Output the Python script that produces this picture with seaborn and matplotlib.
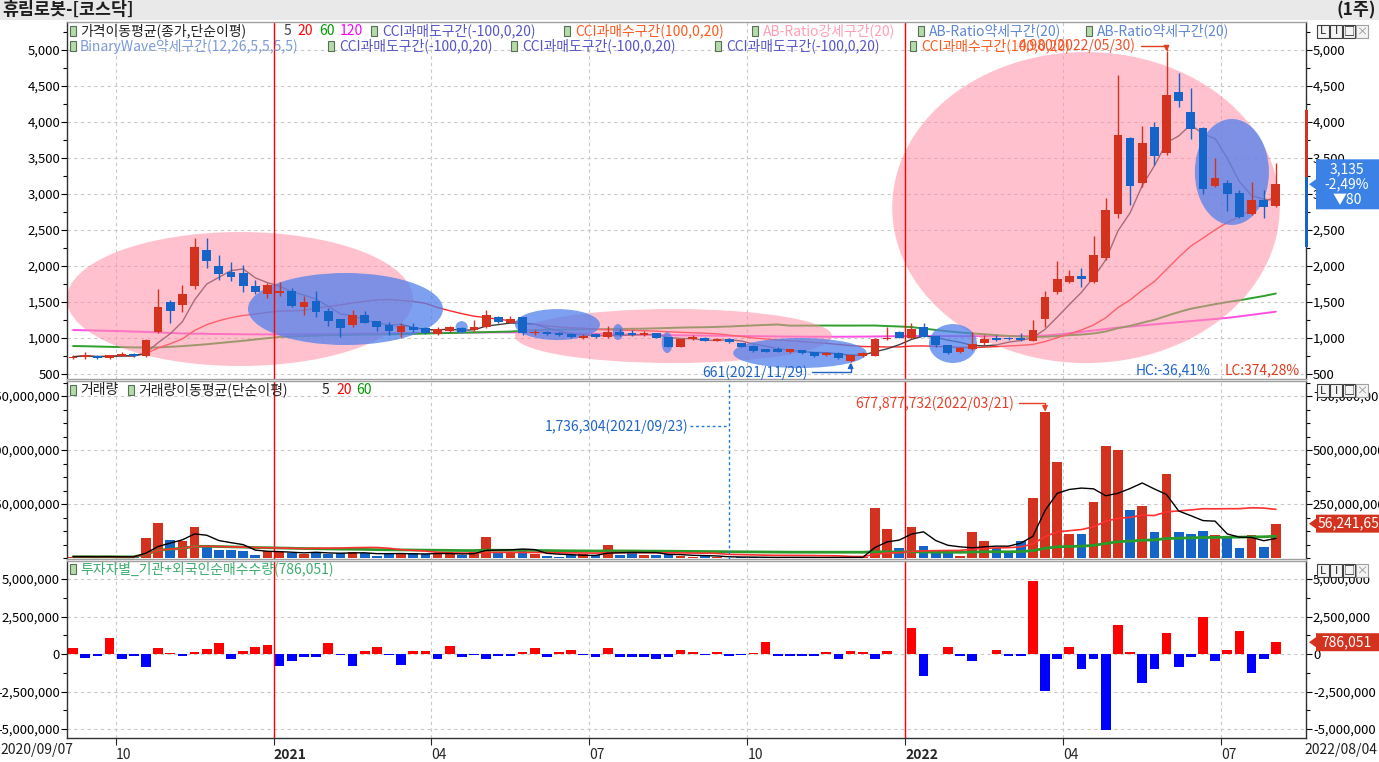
import numpy as np
import pandas as pd
import matplotlib
matplotlib.use("Agg")
import matplotlib.pyplot as plt
import matplotlib.transforms as mtransforms
from matplotlib.patches import Ellipse, Rectangle, Polygon
from matplotlib.ticker import FuncFormatter, MultipleLocator, FixedLocator
import seaborn as sns

sns.set_style("white")
plt.rcParams["font.family"] = ["Noto Sans CJK KR", "DejaVu Sans"]
plt.rcParams["axes.unicode_minus"] = False

# ---------------- data (weekly) ----------------
stock_name = "휴림로봇-[코스닥]"
period_label = "(1주)"
start_date = "2020-09-07"
first_label = "2020/09/07"
end_label = "2022/08/04"

opens = [725, 730, 750, 720, 755, 785, 745, 1088, 1505, 1458,
         1722, 2222, 2000, 1920, 1898, 1722, 1611, 1630, 1657, 1426,
         1514, 1380, 1259, 1180, 1319, 1236, 1180, 1088, 1157, 1134,
         1051, 1097, 1134, 1111, 1148, 1296, 1213, 1287, 1065, 1083,
         1065, 1056, 1000, 1051, 1019, 1088, 1074, 1042, 1065, 1009,
         880, 981, 1005, 963, 986, 926, 889, 843, 847, 801,
         833, 801, 759, 796, 681, 750, 750, 981, 1079, 1005,
         1148, 1028, 903, 801, 843, 935, 995, 1005, 1000, 963,
         1259, 1643, 1782, 1861, 1782, 2107, 2722, 3773, 3148, 3935,
         3565, 4421, 4144, 3912, 3111, 3148, 3009, 2722, 2917, 2838]
highs = [760, 800, 760, 770, 810, 795, 985, 1676, 1528, 1736,
         2384, 2384, 2153, 2060, 2014, 1805, 1759, 1782, 1690, 1583,
         1653, 1412, 1264, 1389, 1380, 1240, 1227, 1213, 1204, 1150,
         1157, 1170, 1150, 1250, 1389, 1310, 1306, 1296, 1110, 1100,
         1080, 1065, 1060, 1065, 1167, 1120, 1110, 1100, 1075, 1015,
         990, 1040, 1015, 995, 995, 935, 900, 850, 870, 850,
         840, 805, 800, 805, 770, 800, 1000, 1157, 1100, 1204,
         1213, 1035, 910, 870, 1088, 1042, 1042, 1010, 1074, 1250,
         1657, 2074, 1944, 1977, 2417, 2940, 4653, 3797, 3945, 4005,
         4980, 4676, 4468, 3926, 3496, 3195, 3056, 3171, 3056, 3435]
lows = [705, 715, 715, 710, 745, 740, 730, 1065, 1204, 1366,
        1676, 1967, 1805, 1796, 1643, 1611, 1551, 1583, 1426, 1320,
        1296, 1167, 1009, 1157, 1204, 1102, 1042, 1009, 1088, 1050,
        1042, 1085, 1080, 1100, 1134, 1215, 1204, 1042, 1040, 1045,
        1030, 1000, 990, 1000, 1005, 1030, 1035, 1035, 1000, 870,
        870, 975, 955, 955, 935, 870, 810, 800, 800, 795,
        780, 740, 750, 710, 661, 730, 745, 972, 995, 981,
        1010, 880, 776, 795, 835, 910, 960, 975, 960, 955,
        1157, 1611, 1759, 1713, 1759, 2083, 2662, 2847, 3102, 3403,
        3542, 4213, 3760, 3000, 3093, 2769, 2662, 2708, 2662, 2824]
closes = [740, 765, 720, 760, 775, 745, 972, 1426, 1380, 1611,
          2259, 2074, 1889, 1852, 1722, 1643, 1736, 1657, 1444, 1505,
          1357, 1240, 1134, 1319, 1213, 1148, 1097, 1167, 1111, 1065,
          1125, 1148, 1088, 1148, 1319, 1227, 1259, 1065, 1088, 1056,
          1042, 1009, 1028, 1009, 1088, 1042, 1042, 1065, 1005, 880,
          981, 1019, 963, 986, 944, 880, 819, 806, 810, 843,
          787, 750, 796, 718, 764, 787, 981, 1000, 1005, 1130,
          1019, 903, 796, 856, 917, 981, 972, 986, 972, 1111,
          1565, 1815, 1861, 1824, 2153, 2778, 3820, 3116, 3713, 3533,
          4375, 4297, 3898, 3065, 3218, 3000, 2685, 2917, 2824, 3135]
# weekly volume, millions of shares
volumes_m = [6, 6, 5, 7, 3, 6, 91, 160, 85, 79,
             142, 61, 37, 36, 34, 15, 34, 29, 22, 19,
             29, 19, 22, 29, 22, 9, 19, 25, 22, 19,
             19, 19, 14, 29, 96, 25, 25, 32, 17, 9,
             6, 14, 17, 14, 62, 14, 22, 14, 14, 20,
             9, 6, 7, 5, 1.736304, 3, 4, 3, 2.5, 3,
             2.5, 3, 2.5, 3, 4, 3, 230, 133, 45, 142,
             56, 29, 23, 9, 119, 79, 45, 22, 79, 276,
             677.877732, 443, 111, 111, 258, 518, 500, 222, 239, 119,
             390, 119, 113, 125, 106, 94, 45, 106, 49, 159]
# institution + foreigner net buying, millions of shares
net_buy_m = [0.38, -0.29, -0.13, 1.04, -0.36, -0.13, -0.89, 0.38, 0.04, -0.13,
             0.13, 0.31, 0.71, -0.36, 0.2, 0.44, 0.6, -0.8, -0.44, -0.22,
             -0.18, 0.71, -0.07, -0.8, 0.22, 0.44, -0.07, -0.71, 0.22, 0.22,
             -0.31, 0.53, -0.22, -0.07, -0.36, -0.13, -0.13, 0.13, 0.38, -0.18,
             0.13, 0.27, -0.04, -0.22, 0.38, -0.18, -0.18, -0.18, -0.31, -0.18,
             0.27, 0.13, -0.04, 0.13, -0.13, -0.04, 0.04, 0.78, -0.13, -0.13,
             -0.13, -0.13, 0.13, -0.31, 0.2, 0.11, -0.36, 0.22, 0.02, 1.71,
             -1.47, 0.02, 0.44, -0.13, -0.44, 0.02, 0.27, -0.13, -0.13, 4.86,
             -2.46, -0.31, 0.44, -0.98, -0.31, -5.06, 1.93, 0.11, -1.95, -0.98,
             1.38, -0.89, -0.22, 2.44, -0.47, 0.27, 1.51, -1.29, -0.36, 0.786051]
# 60-week MA before 60 weeks of history are in view
ma60_early = [889, 886, 882, 878, 874, 870, 868, 870, 878, 888,
              900, 914, 930, 946, 962, 980, 998, 1015, 1022, 1028,
              1033, 1038, 1041, 1044, 1047, 1049, 1051, 1054, 1058, 1062,
              1066, 1070, 1074, 1078, 1082, 1086, 1090, 1100, 1110, 1115,
              1118, 1120, 1121, 1122, 1124, 1126, 1128, 1130, 1135, 1140,
              1145, 1148, 1150, 1155, 1160, 1168, 1175, 1182, 1188]
# 120-week MA
ma120_read = [1111, 1108, 1104, 1100, 1095, 1090, 1085, 1078, 1070, 1065,
              1060, 1058, 1056, 1054, 1052, 1051, 1051, 1051, 1052, 1053,
              1055, 1057, 1059, 1061, 1063, 1065, 1066, 1067, 1068, 1070,
              1072, 1074, 1076, 1077, 1078, 1079, 1079, 1079, 1078, 1075,
              1072, 1068, 1064, 1060, 1056, 1052, 1048, 1045, 1042, 1040,
              1038, 1036, 1034, 1032, 1030, 1028, 1026, 1024, 1022, 1020,
              1019, 1018, 1018, 1018, 1019, 1020, 1022, 1024, 1026, 1028,
              1028, 1028, 1027, 1026, 1026, 1026, 1027, 1028, 1028, 1030,
              1035, 1048, 1065, 1085, 1105, 1125, 1145, 1160, 1175, 1190,
              1205, 1220, 1235, 1250, 1265, 1280, 1300, 1322, 1344, 1366]

# highlighted zones: (kind, centre week, centre price, width in weeks, height in price)
highlight_zones = [
    ("pink", 13.74, 1542, 28.5, 1861),
    ("pink", 49.42, 1028, 26.1, 750),
    ("pink", 83.37, 2812, 31.9, 4319),
    ("blue", 22.42, 1403, 16.05, 1000),
    ("blue", 31.98, 1150, 1.0, 170),
    ("blue", 39.87, 1187, 7.0, 430),
    ("blue", 44.85, 1083, 0.85, 222),
    ("blue", 48.9, 937, 0.9, 290),
    ("blue", 59.83, 792, 11.0, 417),
    ("blue", 72.42, 924, 3.95, 540),
    ("blue", 95.38, 3306, 6.1, 1472),
]

high_label = "4,980(2022/05/30)"
low_label = "661(2021/11/29)"
vol_max_label = "677,877,732(2022/03/21)"
vol_min_label = "1,736,304(2021/09/23)"
hc_label = "HC:-36,41%"
lc_label = "LC:374,28%"
price_box_text = "3,135\n-2,49%\n▼80"
vol_box_text = "56,241,658"
net_box_text = "786,051"
side_range_up = (3236, 4167)
side_range_down = (2264, 3236)

# ---------------- frame ----------------
n = len(closes)
idx = np.arange(n)
weeks = pd.date_range(start_date, periods=n, freq="7D")
df = pd.DataFrame({"x": idx, "open": opens, "high": highs, "low": lows, "close": closes,
                   "volume": np.array(volumes_m) * 1e6, "net": np.array(net_buy_m) * 1e6},
                  index=weeks)
df["ma5"] = df["close"].rolling(5, min_periods=1).mean()
df["ma20"] = df["close"].rolling(20, min_periods=1).mean()
ma60 = df["close"].rolling(60).mean().to_numpy()
ma60[:len(ma60_early)] = ma60_early
df["ma60"] = ma60
df["ma120"] = ma120_read
df["vma5"] = df["volume"].rolling(5, min_periods=1).mean()
df["vma20"] = df["volume"].rolling(20, min_periods=1).mean()
df["vma60"] = df["volume"].rolling(60, min_periods=1).mean()

UP, DOWN = "#D2321E", "#1565C8"
up = df["close"].to_numpy() >= df["open"].to_numpy()
ccol = np.where(up, UP, DOWN)

W, H = 1379, 762
fig = plt.figure(figsize=(W / 100, H / 100), dpi=100)
fig.patch.set_facecolor("white")


def fx(px):
    return px / W


def fy(py):
    return 1 - py / H


def rect(top, bottom, left=67, right=1306):
    return [left / W, 1 - bottom / H, (right - left) / W, (bottom - top) / H]


ax_p = fig.add_axes(rect(22, 379))
ax_v = fig.add_axes(rect(381, 559), sharex=ax_p)
ax_n = fig.add_axes(rect(561, 738), sharex=ax_p)
axes = [ax_p, ax_v, ax_n]

ax_p.set_xlim(-0.5, 101.48)
ax_p.set_ylim(431, 5389)
ax_v.set_ylim(-4.6e6, 819.5e6)
ax_n.set_ylim(-5.6e6, 6.2e6)

# ---------------- price panel ----------------
sns.lineplot(x=idx, y=df["ma120"].to_numpy(), ax=ax_p, color="#FF50E6", linewidth=1.4, zorder=1.5)
sns.lineplot(x=idx, y=df["ma60"].to_numpy(), ax=ax_p, color="#2DA02D", linewidth=1.4, zorder=1.5)
sns.lineplot(x=idx, y=df["ma20"].to_numpy(), ax=ax_p, color="#FF2828", linewidth=1.0, zorder=1.6)
sns.lineplot(x=idx, y=df["ma5"].to_numpy(), ax=ax_p, color="#404040", linewidth=1.0, zorder=1.7)

for kind, cx, cy, w, h in highlight_zones:
    if kind == "pink":
        e = Ellipse((cx, cy), w, h, facecolor="#FF8FA5", alpha=0.55, edgecolor="none", zorder=2)
    else:
        e = Ellipse((cx, cy), w, h, facecolor="#5280EB", alpha=0.75, edgecolor="none", zorder=2.1)
    ax_p.add_patch(e)

body_lo = np.minimum(df["open"], df["close"]).to_numpy()
body_h = np.maximum(np.abs(df["close"] - df["open"]).to_numpy(), 14)
ax_p.vlines(idx, df["low"], df["high"], colors=ccol, linewidth=1.0, zorder=3)
ax_p.bar(idx, body_h, bottom=body_lo, width=0.72, color=ccol, linewidth=0, zorder=3.1)

imax = int(np.argmax(highs))
imin = int(np.argmin(lows))
ax_p.annotate(high_label, xy=(imax, highs[imax]), xytext=(-22, 4), textcoords="offset points",
              ha="right", va="center", color="#F0502A", fontsize=10, annotation_clip=False, zorder=6,
              arrowprops=dict(arrowstyle="-|>", relpos=(1, 0.5), connectionstyle="angle,angleA=0,angleB=90,rad=0",
                              color="#E0401E", lw=1, shrinkA=1, shrinkB=0, mutation_scale=8))
ax_p.annotate(low_label, xy=(imin, lows[imin]), xytext=(-31, -7), textcoords="offset points",
              ha="right", va="center", color="#1E64C8", fontsize=10, annotation_clip=False, zorder=6,
              arrowprops=dict(arrowstyle="-|>", relpos=(1, 0.5), connectionstyle="angle,angleA=0,angleB=90,rad=0",
                              color="#1E64C8", lw=1, shrinkA=1, shrinkB=0, mutation_scale=8))
ax_p.text(0.923, 0.025, hc_label, transform=ax_p.transAxes, ha="right", va="center",
          color="#1E64C8", fontsize=10, zorder=6)
ax_p.text(0.995, 0.025, lc_label, transform=ax_p.transAxes, ha="right", va="center",
          color="#E03C1E", fontsize=10, zorder=6)

# ---------------- volume panel ----------------
ax_v.bar(idx, df["volume"], width=0.8, color=ccol, linewidth=0, zorder=2)
sns.lineplot(x=idx, y=df["vma60"].to_numpy(), ax=ax_v, color="#2A9A2A", linewidth=2.0, zorder=3)
sns.lineplot(x=idx, y=df["vma20"].to_numpy(), ax=ax_v, color="#FF3030", linewidth=1.2, zorder=3.1)
sns.lineplot(x=idx, y=df["vma5"].to_numpy(), ax=ax_v, color="#000000", linewidth=1.0, zorder=3.2)

vmax_i = int(np.argmax(df["volume"].to_numpy()))
vmin_i = int(np.argmin(df["volume"].to_numpy()))
ax_v.annotate(vol_max_label, xy=(vmax_i, df["volume"].iloc[vmax_i]), xytext=(-22, 6),
              textcoords="offset points", ha="right", va="center", color="#E8402A", fontsize=10,
              annotation_clip=False, zorder=6,
              arrowprops=dict(arrowstyle="-|>", relpos=(1, 0.5), connectionstyle="angle,angleA=0,angleB=90,rad=0",
                              color="#E8402A", lw=1, shrinkA=1, shrinkB=0, mutation_scale=8))
blend_v = mtransforms.blended_transform_factory(ax_v.transData, ax_v.transAxes)
ax_v.axvline(vmin_i, color="#1E78DC", linestyle=(0, (2, 2)), linewidth=1, zorder=4)
ax_v.plot([vmin_i - 3.25, vmin_i], [0.745, 0.745], transform=blend_v, color="#1E78DC",
          linestyle=(0, (2, 2)), linewidth=1, zorder=4)
ax_v.text(vmin_i - 3.35, 0.745, vol_min_label, transform=blend_v, ha="right", va="center",
          color="#1E64C8", fontsize=10, zorder=6)

# ---------------- investor panel ----------------
ncol = np.where(df["net"].to_numpy() >= 0, "#FF0000", "#0000FF")
ax_n.bar(idx, df["net"], width=0.8, color=ncol, linewidth=0, zorder=2)

# ---------------- axes styling ----------------
month_starts = [i for i in range(1, n) if weeks[i].month != weeks[i - 1].month and weeks[i].month in (1, 4, 7, 10)]
tick_pos = [i - 0.5 for i in month_starts]
tick_lab = [str(weeks[i].year) if weeks[i].month == 1 else f"{weeks[i].month:02d}" for i in month_starts]
year_pos = [i - 0.5 for i in month_starts if weeks[i].month == 1]

ax_n.set_xticks(tick_pos)
ax_n.set_xticklabels(tick_lab)
for lab, i in zip(ax_n.get_xticklabels(), month_starts):
    lab.set_horizontalalignment("left")
    if weeks[i].month == 1:
        lab.set_fontweight("bold")

comma = FuncFormatter(lambda v, p: f"{v:,.0f}")
ax_p.yaxis.set_major_locator(FixedLocator(np.arange(500, 5001, 500)))
ax_p.yaxis.set_minor_locator(MultipleLocator(250))
ax_v.yaxis.set_major_locator(FixedLocator([250e6, 500e6, 750e6]))
ax_v.yaxis.set_minor_locator(MultipleLocator(62.5e6))
ax_n.yaxis.set_major_locator(FixedLocator([-5e6, -2.5e6, 0, 2.5e6, 5e6]))
ax_n.yaxis.set_minor_locator(MultipleLocator(1.25e6))

for ax in axes:
    ax.yaxis.set_major_formatter(comma)
    ax.set_xlabel("")
    ax.set_ylabel("")
    ax.set_axisbelow(True)
    ax.grid(True, which="major", axis="both", linestyle=(0, (3, 3)), color="#C8C8C8", linewidth=0.8)
    ax.tick_params(axis="y", which="both", left=True, right=True, labelleft=True, labelright=True,
                   direction="out", labelsize=9.5, pad=1, colors="#000000", width=0.8)
    ax.tick_params(axis="y", which="major", length=4)
    ax.tick_params(axis="y", which="minor", length=3)
    for s in ("left", "right"):
        ax.spines[s].set_color("#303030")
        ax.spines[s].set_linewidth(1)
    for s in ("top", "bottom"):
        ax.spines[s].set_color("#A0A0A0")
        ax.spines[s].set_linewidth(1)
    for xp in year_pos:
        ax.axvline(xp, color="#FF0000", linewidth=1, zorder=2.5)
    if ax is not ax_n:
        ax.tick_params(axis="x", which="both", bottom=False, labelbottom=False)
ax_n.tick_params(axis="x", which="major", bottom=True, length=5, labelsize=10, pad=2, width=0.8)
ax_n.spines["bottom"].set_color("#303030")

# ---------------- figure texts ----------------
fig.add_artist(Rectangle((0, fy(20)), 1, 20 / H, transform=fig.transFigure,
                         facecolor="#E9E9E9", edgecolor="none", zorder=0))


def ftext(xp, yp, s, color="#000000", size=10, ha="left", **kw):
    return fig.text(fx(xp), fy(yp), s, color=color, fontsize=size, ha=ha, va="center", zorder=8, **kw)


def icon(xp, yp):
    fig.add_artist(Rectangle((fx(xp - 3), fy(yp + 5)), 6 / W, 10 / H, transform=fig.transFigure,
                             facecolor="#B4DCA8", edgecolor="#5A6E5A", linewidth=0.8, zorder=8))


ftext(2, 10, stock_name, "#1E1E1E", size=12.5, fontweight="bold")
ftext(1376, 10, period_label, "#1E1E1E", size=12.5, ha="right", fontweight="bold")

CCI_LOW, CCI_HIGH = "#5555C8", "#FF5A1E"
icon(73, 31); ftext(80, 31, "가격이동평균(종가,단순이평)", "#202020")
ftext(284, 31, "5", "#404040"); ftext(297, 31, "20", "#FF0000")
ftext(319, 31, "60", "#009900"); ftext(340, 31, "120", "#FF00FF")
icon(374, 31); ftext(382, 31, "CCI과매도구간(-100,0,20)", CCI_LOW)
icon(567, 31); ftext(575, 31, "CCI과매수구간(100,0,20)", CCI_HIGH)
icon(755, 31); ftext(763, 31, "AB-Ratio강세구간(20)", "#FF9EB4")
icon(921, 31); ftext(929, 31, "AB-Ratio약세구간(20)", "#5F87D2")
icon(1089, 31); ftext(1097, 31, "AB-Ratio약세구간(20)", "#5F87D2")

icon(73, 46); ftext(80, 46, "BinaryWave약세구간(12,26,5,5,5,5)", "#7B9BD6")
icon(331, 46); ftext(339, 46, "CCI과매도구간(-100,0,20)", CCI_LOW)
icon(514, 46); ftext(522, 46, "CCI과매도구간(-100,0,20)", CCI_LOW)
icon(718, 46); ftext(726, 46, "CCI과매도구간(-100,0,20)", CCI_LOW)
icon(913, 46); ftext(921, 46, "CCI과매수구간(100,0,20)", CCI_HIGH)

icon(73, 390); ftext(80, 390, "거래량", "#202020")
icon(131, 390); ftext(138, 390, "거래량이동평균(단순이평)", "#202020")
ftext(322, 390, "5", "#202020"); ftext(336, 390, "20", "#FF0000"); ftext(356, 390, "60", "#009900")

icon(73, 569); ftext(80, 569, "투자자별_기관+외국인순매수수량(786,051)", "#3DAE6E")

ftext(0, 750, first_label, "#202020")
ftext(1377, 750, end_label, "#202020", ha="right")


def buttons(ytop):
    specs = [(1317, "L", "#404040"), (1330, "I", "#404040"), (1343, "□", "#404040"), (1356, "×", "#A0A0A0")]
    for x0, ch, ec in specs:
        fig.add_artist(Rectangle((fx(x0), fy(ytop + 16)), 12 / W, 13 / H, transform=fig.transFigure,
                                 facecolor="#F4F4F4", edgecolor=ec, linewidth=0.8, zorder=9))
        fig.text(fx(x0 + 6), fy(ytop + 9.5), ch, ha="center", va="center", fontsize=8,
                 color="#202020" if ec != "#A0A0A0" else "#909090", zorder=10)


for top in (22, 381, 561):
    buttons(top)


def value_box(ax, yval, text, color, half_h, text_x, ha, size=10):
    ypx = H - ax.transData.transform((0, yval))[1]
    top, bot = ypx - half_h, ypx + half_h
    pts = [(1316, top), (1379, top), (1379, bot), (1316, bot), (1316, ypx + 5), (1309, ypx), (1316, ypx - 5)]
    fig.add_artist(Polygon([(fx(a), fy(b)) for a, b in pts], closed=True, transform=fig.transFigure,
                           facecolor=color, edgecolor="none", zorder=9))
    fig.text(fx(text_x), fy(ypx), text, ha=ha, va="center", color="white", fontsize=size,
             linespacing=1.05, multialignment="center", zorder=10)


def side_bar(ax, lo, hi, color):
    d0 = ax.transData.transform((0, lo))[1]
    d1 = ax.transData.transform((0, hi))[1]
    fig.add_artist(Rectangle((fx(1305), d0 / H), 3 / W, (d1 - d0) / H, transform=fig.transFigure,
                             facecolor=color, edgecolor="none", zorder=8))


side_bar(ax_p, *side_range_up, UP)
side_bar(ax_p, *side_range_down, DOWN)
value_box(ax_p, closes[-1], price_box_text, "#3C82E6", 25, 1347, "center")
value_box(ax_v, df["volume"].iloc[-1], vol_box_text, UP, 9, 1318, "left")
value_box(ax_n, df["net"].iloc[-1], net_box_text, UP, 9, 1347, "center")

fig.savefig("out.png", dpi=100)
